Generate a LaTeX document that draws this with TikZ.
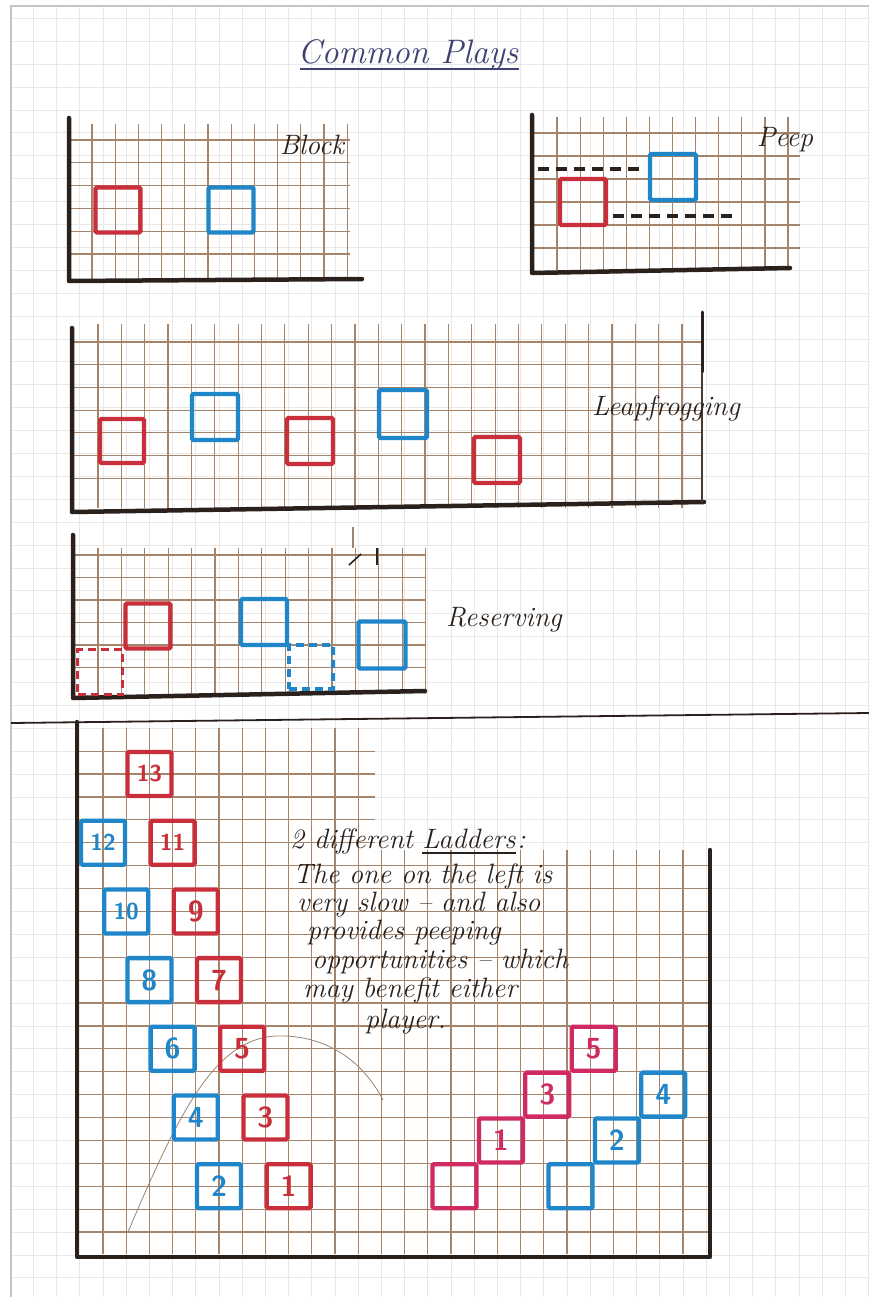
\documentclass[tikz,border=0pt]{standalone}
\usepackage{fontspec}
\usetikzlibrary{positioning}
\definecolor{PlayRed}{HTML}{C92F3B}
\definecolor{PlayPink}{HTML}{D02A62}
\definecolor{PlayBlue}{HTML}{1F86C9}
\definecolor{PlayBrown}{HTML}{A58469}
\definecolor{PlayInk}{HTML}{2A211C}
\definecolor{PlayTitle}{HTML}{3E4272}
\definecolor{PlayPage}{HTML}{E8E8E8}
\tikzset{
  pagegrid/.style={draw=PlayPage,line width=0.7pt},
  gridln/.style={draw=PlayBrown,line width=1.2pt},
  axisln/.style={draw=PlayInk,line width=4.5pt,line cap=round,line join=round},
  sq/.style={line width=4.3pt,minimum size=44pt,inner sep=0pt,rounded corners=1.5pt},
  onedig/.style={font=\fontsize{29}{29}\selectfont\sffamily\bfseries},
  twodig/.style={font=\fontsize{23}{23}\selectfont\sffamily\bfseries},
  redsq/.style={sq,draw=PlayRed,text=PlayRed},
  pinksq/.style={sq,draw=PlayPink,text=PlayPink},
  bluesq/.style={sq,draw=PlayBlue,text=PlayBlue},
  dashsq/.style={line width=3.4pt,dash pattern=on 8pt off 5pt,rounded corners=0pt},
  peepdash/.style={draw=PlayInk,line width=4.5pt,dash pattern=on 11pt off 7pt},
  panellbl/.style={font=\fontsize{28}{30}\selectfont\itshape,text=PlayInk,inner sep=0pt},
  hand/.style={font=\fontsize{28}{30}\selectfont\itshape,text=PlayInk,inner sep=0pt,anchor=base west}
}

\begin{document}
\begin{tikzpicture}[x=1pt,y=-1pt]
\useasboundingbox (0,0) rectangle (869,1297);
\fill[white] (0,0) rectangle (869,1297);
\foreach \i in {0,...,36} \draw[pagegrid] ({33.4+23.2*\i},6) -- ({33.4+23.2*\i},1297);
\foreach \j in {0,...,55} \draw[pagegrid] (11,{1277.8-22.9*\j}) -- (869,{1277.8-22.9*\j});
\draw[gray!45,line width=1.6pt] (11,1297) -- (11,6) -- (869,6);

\node[font=\fontsize{34}{40}\selectfont\itshape,text=PlayTitle,anchor=base] (title) at (408,64) {Common Plays};
\draw[PlayTitle,line width=1.6pt] (300,69) -- (519,69);

\foreach \k in {0,...,11} \draw[gridln] ({92+23.2*\k},124) -- ({92+23.2*\k},279);
\foreach \j in {0,...,5} \draw[gridln] (70,{140+22.8*\j}) -- (350,{140+22.8*\j});
\draw[axisln] (69,118) -- (69,281) -- (362,279);
\node[redsq,minimum size=45pt] (bred) at (118,210) {};
\node[bluesq,minimum size=45pt] (bblue) at (231,210) {};
\node[panellbl] (blocklbl) at (312,145) {Block};

\foreach \k in {0,...,10} \draw[gridln] ({557+23.1*\k},117) -- ({557+23.1*\k},270);
\foreach \j in {0,...,5} \draw[gridln] (534,{133+23*\j}) -- (800,{133+23*\j});
\draw[axisln] (532,115) -- (532,273) -- (790,268);
\node[redsq,minimum size=46pt] (pred) at (583,202) {};
\node[bluesq,minimum size=46pt] (pblue) at (673,177) {};
\draw[peepdash] (538,169) -- (643,169);
\draw[peepdash] (613,216) -- (735,216);
\node[panellbl] (peeplbl) at (785,140) {Peep};

\foreach \k in {0,...,25} \draw[gridln] ({98+23.36*\k},324) -- ({98+23.36*\k},508);
\foreach \j in {0,...,6} \draw[gridln] (72,{342+22.7*\j}) -- (702,{342+22.7*\j});
\draw[axisln] (72,328) -- (72,512) -- (704,502);
\draw[axisln,line width=3pt] (702,312) -- (702,372);
\draw[PlayInk!75!PlayBrown,line width=2.4pt] (702,372) -- (702,502);
\node[redsq,minimum size=44pt] (lred1) at (122,441) {};
\node[bluesq,minimum size=46pt] (lblue1) at (215,417) {};
\node[redsq,minimum size=46pt] (lred2) at (310,441) {};
\node[bluesq,minimum size=48pt] (lblue2) at (403,414) {};
\node[redsq,minimum size=46pt] (lred3) at (497,460) {};
\node[panellbl] (leaplbl) at (666,408) {Leapfrogging};

\foreach \k in {0,...,14} \draw[gridln] ({98+23.4*\k},548) -- ({98+23.4*\k},694);
\foreach \j in {0,...,5} \draw[gridln] (73,{555+22.5*\j}) -- (426,{555+22.5*\j});
\draw[gridln] (353,527) -- (353,548);
\draw[PlayInk,line width=1.6pt] (349,565) -- (361,554);
\draw[PlayInk,line width=2.6pt] (377,548) -- (377,565);
\draw[axisln] (73,535) -- (73,698) -- (425,691);
\node[redsq,minimum size=45pt] (rred) at (148,626) {};
\node[redsq,dashsq,minimum size=45pt] (rredres) at (100,672) {};
\node[bluesq,minimum size=46pt] (rblue1) at (264,622) {};
\node[bluesq,dashsq,minimum size=44pt] (rblueres) at (311,667) {};
\node[bluesq,minimum size=47pt] (rblue2) at (382,645) {};
\node[panellbl] (reslbl) at (504,620) {Reserving};

\draw[PlayInk,line width=1.8pt] (11,723) -- (869,713);

\foreach \k in {0,...,11} \draw[gridln] ({103+23.2*\k},728) -- ({103+23.2*\k},1254);
\foreach \k in {12,...,25} \draw[gridln] ({103+23.2*\k},850) -- ({103+23.2*\k},1254);
\foreach \j in {0,...,16} \draw[gridln] (77,{1232-22.9*\j}) -- (710,{1232-22.9*\j});
\foreach \j in {17,...,21} \draw[gridln] (77,{1232-22.9*\j}) -- (375,{1232-22.9*\j});
\draw[PlayBrown!70!gray,line width=0.8pt] (128,1232) .. controls (180,1110) and (215,1040) .. (275,1036) .. controls (330,1034) and (365,1065) .. (383,1100);
\draw[axisln] (77,722) -- (77,1257) -- (710,1257) -- (710,850);

\foreach \i/\n/\s in {0/1/onedig,1/3/onedig,2/5/onedig,3/7/onedig,4/9/onedig,5/11/twodig,6/13/twodig}
  \node[redsq,\s] (lad\n) at ({103+23.2*(8-\i)},{1232-22.9*(2+3*\i)}) {\n};
\foreach \i/\n/\s in {0/2/onedig,1/4/onedig,2/6/onedig,3/8/onedig,4/10/twodig,5/12/twodig}
  \node[bluesq,\s] (lad\n) at ({103+23.2*(5-\i)},{1232-22.9*(2+3*\i)}) {\n};

\node[pinksq] (rr0) at (454.5,1186.2) {};
\node[pinksq,onedig] (rr1) at (500.9,1140.4) {1};
\node[pinksq,onedig] (rr3) at (547.3,1094.6) {3};
\node[pinksq,onedig] (rr5) at (593.7,1048.8) {5};
\node[bluesq] (rb0) at (570.5,1186.2) {};
\node[bluesq,onedig] (rb2) at (616.9,1140.4) {2};
\node[bluesq,onedig] (rb4) at (663.3,1094.6) {4};

\node[hand] (note1) at (290,848) {2 different};
\node[hand,right=9pt of note1.base east,anchor=base west] (note1b) {Ladders};
\node[hand,right=1pt of note1b.base east,anchor=base west] (note1c) {:};
\draw[PlayInk,line width=1.6pt] ([yshift=-5pt]note1b.base west) -- ([yshift=-5pt]note1b.base east);
\node[hand] (note2) at (293,883) {The one on the left is};
\node[hand] (note3) at (297,911) {very slow -- and also};
\node[hand] (note4) at (307,939) {provides peeping};
\node[hand] (note5) at (312,968) {opportunities -- which};
\node[hand] (note6) at (303,997) {may benefit either};
\node[hand] (note7) at (365,1028) {player.};
\end{tikzpicture}
\end{document}
